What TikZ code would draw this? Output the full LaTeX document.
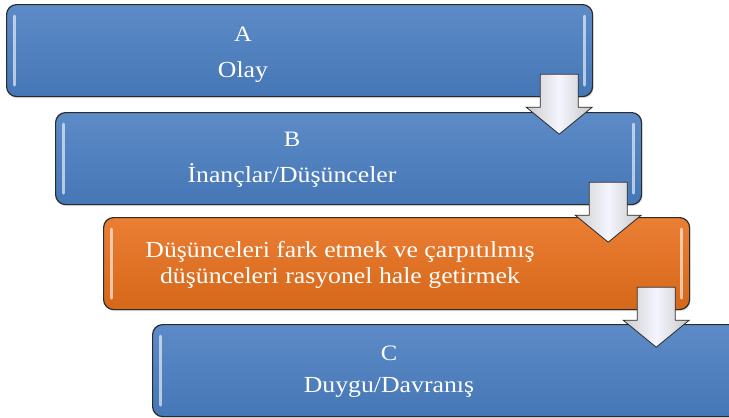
\documentclass[tikz,border=0pt]{standalone}
\usepackage{fontspec}
\usepackage{graphicx}
\setmainfont{Liberation Serif}
\usetikzlibrary{shadows}
\definecolor{boxblue}{HTML}{4A7EC1}
\definecolor{boxorange}{HTML}{E8701C}
\definecolor{edge}{HTML}{2B2B2B}
\newcommand\widetext[1]{\scalebox{1.12}[1]{#1}}
\tikzset{
  panel/.style={draw=edge, line width=1.2pt, rounded corners=10pt,
    minimum width=586pt, minimum height=92pt, anchor=north west, inner sep=0pt,
    drop shadow={opacity=0.25, shadow xshift=1pt, shadow yshift=-1.5pt}},
  bluepanel/.style={panel, top color=boxblue!90!white, bottom color=boxblue!94!black},
  orangepanel/.style={panel, top color=boxorange!90!white, bottom color=boxorange!92!black},
  gloss/.style={line width=3pt, line cap=round, draw=white, draw opacity=0.6},
  lettertext/.style={text=white, inner sep=0pt, anchor=base, font=\fontsize{22}{26}\selectfont},
  paneltext/.style={text=white, inner sep=0pt, anchor=base, font=\fontsize{23}{27}\selectfont},
  blockarrow/.style={draw=edge, line width=0.8pt, line join=miter,
    shading=axis, left color=black!20, right color=black!22, middle color=blue!4!white},
}
\newcommand\glossy[1]{%
  \draw[gloss] ([xshift=8pt,yshift=-12pt]#1.north west) -- ([xshift=8pt,yshift=12pt]#1.south west);
  \draw[gloss] ([xshift=-9pt,yshift=-12pt]#1.north east) -- ([xshift=-9pt,yshift=12pt]#1.south east);}
\newcommand\stepdownarrow[1]{%
  \begin{scope}[shift={(#1.south east)}]
    \draw[blockarrow] (-53,-23) -- (-15,-23) -- (-15,10) -- (-1,10) -- (-34,37)
      -- (-67,10) -- (-53,10) -- cycle;
  \end{scope}}
\begin{document}
\begin{tikzpicture}[x=1pt,y=-1pt]
\useasboundingbox (0,0) rectangle (729,418);
\clip (0,0) rectangle (729,418);
\node[bluepanel] (a) at (6,4) {};
\node[bluepanel] (b) at (55,112) {};
\node[orangepanel] (c) at (103,217) {};
\node[bluepanel] (d) at (152,324) {};
\glossy{a}\glossy{b}\glossy{c}\glossy{d}
\node[lettertext] (ta1) at ([xshift=237pt,yshift=-37pt]a.north west) {\widetext{A}};
\node[paneltext]  (ta2) at ([xshift=237pt,yshift=-73pt]a.north west) {\widetext{Olay}};
\node[lettertext] (tb1) at ([xshift=237pt,yshift=-34pt]b.north west) {\widetext{B}};
\node[paneltext]  (tb2) at ([xshift=237pt,yshift=-70pt]b.north west) {\widetext{İnançlar/Düşünceler}};
\node[paneltext]  (tc1) at ([xshift=237pt,yshift=-40pt]c.north west) {\widetext{Düşünceleri fark etmek ve çarpıtılmış}};
\node[paneltext]  (tc2) at ([xshift=237pt,yshift=-66pt]c.north west) {\widetext{düşünceleri rasyonel hale getirmek}};
\node[lettertext] (td1) at ([xshift=237pt,yshift=-36pt]d.north west) {\widetext{C}};
\node[paneltext]  (td2) at ([xshift=237pt,yshift=-68pt]d.north west) {\widetext{Duygu/Davranış}};
\stepdownarrow{a}
\stepdownarrow{b}
\stepdownarrow{c}
\end{tikzpicture}
\end{document}
